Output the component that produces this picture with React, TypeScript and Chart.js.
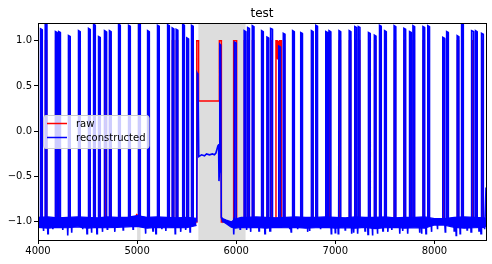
import React, { useEffect, useRef } from "react";
import { Chart, registerables } from "chart.js";
Chart.register(...registerables);

// ---- axes ----
const X_MIN = 4000;
const X_MAX = 8520;
const Y_MIN = -1.2;
const Y_MAX = 1.195;
const xTicks = [4000, 5000, 6000, 7000, 8000];
const yTicks = [-1.0, -0.5, 0.0, 0.5, 1.0];
const shadeStart = [5000, 5618];
const shadeEnd = [5035, 6094];

// ---- reconstructed: spikes (centre, peak) ----
const spikeX = [4034, 4081, 4184, 4217, 4316, 4417, 4518, 4569, 4619, 4679, 4729, 4821, 4922, 5023, 5114, 5214, 5316, 5362, 5402, 5468, 5510, 5557,
  5990, 6088, 6124, 6170, 6264, 6318, 6357, 6437, 6483, 6577, 6659, 6767, 6811, 6912, 6944, 7045, 7148, 7205, 7240, 7343, 7402, 7454, 7505,
  7601, 7700, 7757, 7791, 7892, 7941, 8092, 8131, 8237, 8282, 8386, 8422, 8484];
const spikePeak = [1.13, 1.19, 1.10, 1.10, 1.055, 1.11, 1.135, 1.18, 1.045, 1.11, 1.11, 1.18, 1.17, 1.21, 1.11, 1.17, 1.175, 1.14, 1.125, 1.18, 1.03, 1.17,
  0.985, 1.11, 1.145, 1.165, 1.11, 1.04, 1.135, 0.94, 1.08, 1.11, 1.09, 1.11, 1.17, 1.10, 1.11, 1.11, 1.11, 1.155, 1.155, 1.09, 1.06, 1.17, 1.11,
  1.165, 1.135, 1.10, 1.165, 1.155, 1.165, 1.036, 1.10, 1.055, 1.19, 1.11, 1.11, 1.08];

// ---- reconstructed: downward dips of the baseline ----
const dipX = [4055, 4100, 4150, 4250, 4300, 4340, 4450, 4495, 4540, 4595, 4650, 4700, 4775, 4860, 4960, 5085, 5160, 5190, 5250, 5290, 5385, 5440, 5490, 5535,
  5975, 6040, 6105, 6145, 6230, 6290, 6340, 6540, 6555, 6620, 6720, 6740, 6850, 6960, 7000, 7030, 7100, 7165, 7185, 7225, 7300, 7330, 7375, 7425, 7480,
  7530, 7570, 7650, 7680, 7730, 7850, 7870, 7915, 7970, 8030, 8110, 8200, 8220, 8260, 8330, 8370, 8450, 8470, 8505];
const dipY = [-1.10, -1.13, -1.08, -1.09, -1.15, -1.12, -1.08, -1.13, -1.12, -1.13, -1.11, -1.08, -1.11, -1.09, -1.08, -1.13, -1.10, -1.13, -1.08, -1.10, -1.13, -1.11, -1.09, -1.11,
  -1.14, -1.08, -1.09, -1.11, -1.10, -1.13, -1.10, -1.08, -1.11, -1.08, -1.11, -1.10, -1.08, -1.13, -1.12, -1.13, -1.09, -1.13, -1.12, -1.13, -1.10, -1.14, -1.15, -1.13, -1.10,
  -1.11, -1.09, -1.13, -1.10, -1.13, -1.12, -1.13, -1.13, -1.11, -1.08, -1.11, -1.10, -1.15, -1.13, -1.09, -1.11, -1.10, -1.13, -1.08];

// ---- reconstructed inside the shaded window ----
const gapX = [5590, 5602, 5606, 5614, 5622, 5650, 5680, 5700, 5730, 5760, 5780, 5795, 5805, 5815, 5822, 5826, 5830, 5834, 5843, 5849, 5856, 5870, 5900, 5940, 5962];
const gapY = [-0.98, -0.99, 0.64, 0.62, -0.28, -0.26, -0.27, -0.25, -0.26, -0.25, -0.26, -0.24, -0.20, -0.16, -0.15, -0.55, -0.45, 0.96, 0.95, -0.95, -0.97, -0.98, -1.0, -1.03, -1.05];
const reconEndX = [4000, 8510, 8520];
const reconEndY = [-1.0, -1.0, -0.62];

// ---- reconstructed noise band (upper / lower envelope) ----
const band1X = [4000, 4100, 4200, 4300, 4400, 4500, 4600, 4700, 4800, 4900, 5000, 5100, 5200, 5300, 5400, 5500, 5600];
const band1Hi = [-0.95, -0.945, -0.955, -0.95, -0.945, -0.95, -0.955, -0.945, -0.95, -0.95, -0.93, -0.95, -0.945, -0.95, -0.955, -0.95, -0.96];
const band1Lo = [-1.06, -1.07, -1.06, -1.065, -1.055, -1.07, -1.06, -1.065, -1.06, -1.055, -1.05, -1.07, -1.06, -1.065, -1.06, -1.065, -1.04];
const band2X = [5856, 5900, 5950, 5990, 6050, 6100, 6200, 6300, 6400, 6500, 6600, 6700, 6800, 6900, 7000, 7100, 7200, 7300, 7400, 7500, 7600, 7700, 7800, 7900, 8000, 8100, 8200, 8300, 8400, 8500, 8520];
const band2Hi = [-0.96, -0.98, -1.0, -0.97, -0.95, -0.95, -0.945, -0.95, -0.955, -0.95, -0.945, -0.95, -0.95, -0.945, -0.95, -0.955, -0.945, -0.95, -0.95, -0.945, -0.955, -0.95, -0.95, -0.945, -0.965, -0.965, -0.95, -0.945, -0.95, -0.955, -0.96];
const band2Lo = [-0.99, -1.02, -1.06, -1.07, -1.06, -1.065, -1.06, -1.07, -1.06, -1.065, -1.06, -1.07, -1.065, -1.06, -1.07, -1.065, -1.07, -1.06, -1.075, -1.065, -1.06, -1.07, -1.065, -1.07, -1.035, -1.035, -1.06, -1.07, -1.065, -1.06, -1.05];

// ---- raw ----
const rawLow = -1.0;
const rawHigh = 1.0;
const rawWideStart = [5974, 6401];
const rawWideEnd = [6004, 6455];
const rawGapX = [5596, 5602, 5602, 5620, 5620, 5830, 5830, 5850, 5850];
const rawGapY = [-1.0, -1.0, 1.0, 1.0, 0.333, 0.333, 1.0, 1.0, -1.0];
const rawBlockX = [6401, 6401, 6405, 6405, 6409, 6409, 6413, 6413, 6417, 6417, 6421, 6421, 6425, 6425, 6429, 6429, 6433, 6433, 6437, 6437, 6441, 6441, 6445, 6445, 6449, 6449, 6455, 6455];
const rawBlockY = [-1.0, 1.0, 1.0, 0.8, 0.8, 1.0, 1.0, 0.8, 0.8, 1.0, 1.0, 0.8, 0.8, 1.0, 1.0, 0.8, 0.8, 1.0, 1.0, 0.8, 0.8, 1.0, 1.0, 0.8, 0.8, 1.0, 1.0, -1.0];
const rawBumpX = [4975, 4995, 5008];
const rawBumpY = [-1.0, -0.92, -0.93];

type P = { x: number; y: number | null };

function buildRecon(): P[] {
  const pts: P[] = [];
  reconEndX.forEach((x, i) => pts.push({ x, y: reconEndY[i] }));
  spikeX.forEach((c, i) => {
    const p = spikePeak[i];
    pts.push({ x: c - 9, y: -0.98 }, { x: c - 8, y: p }, { x: c + 8, y: p - 0.01 }, { x: c + 9, y: -0.98 });
  });
  dipX.forEach((d, i) => {
    pts.push({ x: d - 4, y: -1.0 }, { x: d - 1, y: dipY[i] }, { x: d + 1, y: dipY[i] }, { x: d + 4, y: -1.0 });
  });
  gapX.forEach((x, i) => pts.push({ x, y: gapY[i] }));
  return pts.map((p, i) => ({ p, i })).sort((a, b) => a.p.x - b.p.x || a.i - b.i).map((o) => o.p);
}

function buildRaw(): P[] {
  const pieces: { s: number; pts: P[] }[] = [];
  const inWide = (c: number) => rawWideStart.some((s, i) => c >= s && c <= rawWideEnd[i]);
  spikeX.forEach((c) => {
    if (inWide(c)) return;
    pieces.push({ s: c - 6, pts: [{ x: c - 6, y: rawLow }, { x: c - 6, y: rawHigh }, { x: c + 6, y: rawHigh }, { x: c + 6, y: rawLow }] });
  });
  const s0 = rawWideStart[0], e0 = rawWideEnd[0];
  pieces.push({ s: s0, pts: [{ x: s0, y: rawLow }, { x: s0, y: rawHigh }, { x: e0, y: rawHigh }, { x: e0, y: rawLow }] });
  pieces.push({ s: rawBlockX[0], pts: rawBlockX.map((x, i) => ({ x, y: rawBlockY[i] })) });
  pieces.push({ s: rawGapX[0], pts: rawGapX.map((x, i) => ({ x, y: rawGapY[i] })) });
  pieces.push({ s: rawBumpX[0], pts: rawBumpX.map((x, i) => ({ x, y: rawBumpY[i] })) });
  pieces.sort((a, b) => a.s - b.s);
  const out: P[] = [{ x: X_MIN, y: rawLow }];
  pieces.forEach((pc) => out.push(...pc.pts));
  out.push({ x: X_MAX, y: rawLow });
  return out;
}

const FONT = "'DejaVu Sans', 'Liberation Sans', sans-serif";

const decor = {
  id: "decor",
  beforeDatasetsDraw(chart: any) {
    const { ctx, chartArea: a, scales } = chart;
    ctx.save();
    ctx.fillStyle = "rgb(221,221,221)";
    shadeStart.forEach((s, i) => {
      const x0 = scales.x.getPixelForValue(s);
      const x1 = scales.x.getPixelForValue(shadeEnd[i]);
      ctx.fillRect(x0, a.top, x1 - x0, a.bottom - a.top);
    });
    ctx.restore();
  },
  afterDatasetsDraw(chart: any) {
    const { ctx, chartArea: a } = chart;
    ctx.save();
    ctx.strokeStyle = "#000";
    ctx.lineWidth = 1;
    ctx.strokeRect(Math.round(a.left) + 0.5, Math.round(a.top) + 0.5, Math.round(a.right) - Math.round(a.left), Math.round(a.bottom) - Math.round(a.top));
    ctx.restore();
  },
  afterDraw(chart: any) {
    const { ctx, chartArea: a } = chart;
    ctx.save();
    ctx.fillStyle = "#000";
    ctx.font = `12px ${FONT}`;
    ctx.textAlign = "center";
    ctx.textBaseline = "alphabetic";
    ctx.fillText("test", (a.left + a.right) / 2, 17);
    const bx = 43.5, by = 115.5, bw = 105.5, bh = 33, r = 2.5;
    ctx.beginPath();
    ctx.moveTo(bx + r, by);
    ctx.lineTo(bx + bw - r, by);
    ctx.arcTo(bx + bw, by, bx + bw, by + r, r);
    ctx.lineTo(bx + bw, by + bh - r);
    ctx.arcTo(bx + bw, by + bh, bx + bw - r, by + bh, r);
    ctx.lineTo(bx + r, by + bh);
    ctx.arcTo(bx, by + bh, bx, by + bh - r, r);
    ctx.lineTo(bx, by + r);
    ctx.arcTo(bx, by, bx + r, by, r);
    ctx.closePath();
    ctx.fillStyle = "rgba(255,255,255,0.8)";
    ctx.fill();
    ctx.strokeStyle = "#cccccc";
    ctx.lineWidth = 1;
    ctx.stroke();
    const items = [
      { label: "raw", color: "#ff0000", y: 123.5 },
      { label: "reconstructed", color: "#0000ff", y: 137.5 },
    ];
    ctx.font = `10px ${FONT}`;
    ctx.textAlign = "left";
    ctx.textBaseline = "middle";
    items.forEach((it) => {
      ctx.strokeStyle = it.color;
      ctx.lineWidth = 1.5;
      ctx.beginPath();
      ctx.moveTo(47, it.y);
      ctx.lineTo(67, it.y);
      ctx.stroke();
      ctx.fillStyle = "#000";
      ctx.fillText(it.label, 76, it.y + 0.5);
    });
    ctx.restore();
  },
};

export default function App() {
  const ref = useRef<HTMLCanvasElement | null>(null);
  useEffect(() => {
    if (!ref.current) return;
    const band = (xs: number[], ys: number[]) => xs.map((x, i) => ({ x, y: ys[i] }));
    const lineBase = { pointRadius: 0, tension: 0, spanGaps: false } as any;
    const chart = new Chart(ref.current, {
      type: "line",
      data: {
        datasets: [
          { ...lineBase, label: "reconstructed", data: buildRecon(), borderColor: "#0000ff", borderWidth: 1.6, fill: false },
          { ...lineBase, label: "b1hi", data: band(band1X, band1Hi), borderColor: "#0000ff", backgroundColor: "#0000ff", borderWidth: 1.2, fill: "+1" },
          { ...lineBase, label: "b1lo", data: band(band1X, band1Lo), borderColor: "#0000ff", borderWidth: 1.2, fill: false },
          { ...lineBase, label: "b2hi", data: band(band2X, band2Hi), borderColor: "#0000ff", backgroundColor: "#0000ff", borderWidth: 1.2, fill: "+1" },
          { ...lineBase, label: "b2lo", data: band(band2X, band2Lo), borderColor: "#0000ff", borderWidth: 1.2, fill: false },
          { ...lineBase, label: "raw", data: buildRaw(), borderColor: "#ff0000", borderWidth: 1.5, fill: false },
        ],
      },
      options: {
        animation: false,
        responsive: false,
        maintainAspectRatio: false,
        devicePixelRatio: 1,
        parsing: false as any,
        normalized: true,
        layout: { padding: { top: 23, right: 6, left: 0, bottom: 0 } },
        plugins: { legend: { display: false }, title: { display: false }, tooltip: { enabled: false } },
        elements: { line: { borderJoinStyle: "miter", borderCapStyle: "butt" } },
        scales: {
          x: {
            type: "linear",
            min: X_MIN,
            max: X_MAX,
            afterBuildTicks: (s: any) => { s.ticks = xTicks.map((v) => ({ value: v })); },
            afterFit: (s: any) => { s.height = 24; },
            grid: { display: true, drawOnChartArea: false, drawTicks: true, tickLength: 4, color: "#000", lineWidth: 1 },
            border: { display: false },
            ticks: { color: "#000", font: { family: FONT, size: 10 }, padding: 1, maxRotation: 0, autoSkip: false, callback: (v: any) => String(v) },
          },
          y: {
            type: "linear",
            min: Y_MIN,
            max: Y_MAX,
            afterBuildTicks: (s: any) => { s.ticks = yTicks.map((v) => ({ value: v })); },
            afterFit: (s: any) => { s.width = 38; },
            grid: { display: true, drawOnChartArea: false, drawTicks: true, tickLength: 4, color: "#000", lineWidth: 1 },
            border: { display: false },
            ticks: { color: "#000", font: { family: FONT, size: 10 }, padding: 2, autoSkip: false, callback: (v: any) => Number(v).toFixed(1).replace("-", "\u2212") },
          },
        },
      },
      plugins: [decor],
    });
    return () => chart.destroy();
  }, []);
  return (
    <div style={{ position: "absolute", left: 0, top: 0, width: 492, height: 264, background: "#fff" }}>
      <canvas ref={ref} width={492} height={264} style={{ display: "block", width: 492, height: 264 }} />
    </div>
  );
}
